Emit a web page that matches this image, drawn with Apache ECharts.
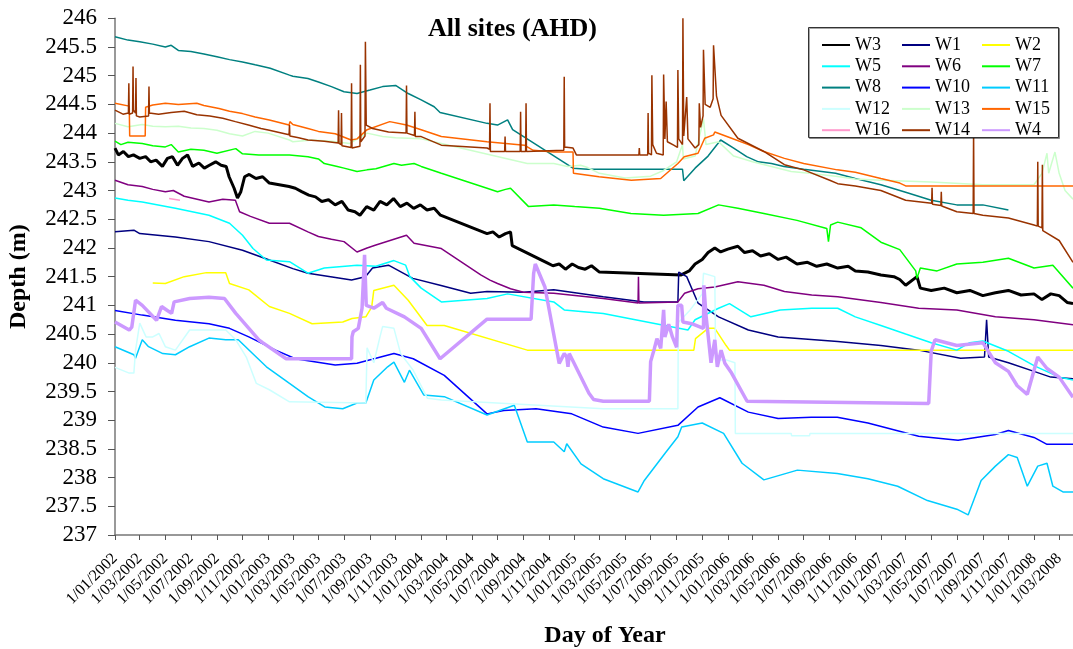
<!DOCTYPE html>
<html>
<head>
<meta charset="utf-8">
<script src="https://cdn.jsdelivr.net/npm/echarts@6/dist/echarts.min.js"></script>
<style>
  html, body { margin: 0; padding: 0; background: #fff; }
  #chart { width: 1073px; height: 649px; }
</style>
</head>
<body>
<div id="chart"></div>
<script>
// Groundwater levels (m AHD) per monitoring bore, [date, level]
const W3 = [['2002-01-01',243.74],['2002-01-09',243.62],['2002-01-21',243.68],['2002-02-02',243.59],['2002-02-14',243.62],['2002-03-01',243.56],['2002-03-15',243.59],['2002-03-27',243.5],['2002-04-09',243.53],['2002-04-24',243.42],['2002-05-06',243.56],['2002-05-18',243.59],['2002-05-30',243.44],['2002-06-11',243.56],['2002-06-23',243.62],['2002-07-05',243.42],['2002-07-20',243.48],['2002-08-02',243.39],['2002-08-14',243.44],['2002-08-29',243.5],['2002-09-11',243.44],['2002-09-23',243.42],['2002-09-30',243.24],['2002-10-12',243.04],['2002-10-20',242.87],['2002-10-28',242.98],['2002-11-06',243.24],['2002-11-17',243.28],['2002-12-03',243.21],['2002-12-19',243.24],['2003-01-04',243.13],['2003-02-20',243.07],['2003-03-07',243.04],['2003-03-22',242.98],['2003-04-08',242.92],['2003-04-24',242.89],['2003-05-09',242.81],['2003-05-25',242.84],['2003-06-10',242.75],['2003-06-26',242.81],['2003-07-11',242.66],['2003-07-27',242.63],['2003-08-08',242.57],['2003-08-24',242.72],['2003-09-10',242.66],['2003-09-25',242.81],['2003-10-11',242.75],['2003-10-27',242.86],['2003-11-12',242.72],['2003-11-28',242.78],['2003-12-14',242.69],['2003-12-30',242.75],['2004-01-15',242.66],['2004-02-01',242.69],['2004-02-16',242.57],['2004-06-06',242.25],['2004-06-20',242.28],['2004-07-05',242.19],['2004-07-20',242.25],['2004-08-01',242.28],['2004-08-05',242.04],['2004-10-25',241.75],['2004-11-10',241.69],['2004-11-25',241.72],['2004-12-10',241.63],['2004-12-26',241.72],['2005-01-10',241.66],['2005-01-26',241.63],['2005-02-10',241.69],['2005-03-01',241.58],['2005-09-12',241.53],['2005-10-01',241.6],['2005-10-15',241.72],['2005-11-01',241.8],['2005-11-15',241.92],['2005-12-01',242.0],['2005-12-15',241.93],['2006-01-01',241.98],['2006-01-25',242.03],['2006-02-10',241.92],['2006-03-01',241.95],['2006-03-20',241.86],['2006-04-10',241.9],['2006-05-01',241.8],['2006-05-20',241.84],['2006-06-15',241.72],['2006-07-10',241.75],['2006-08-01',241.68],['2006-08-25',241.72],['2006-09-20',241.65],['2006-10-15',241.68],['2006-11-01',241.6],['2006-12-01',241.58],['2007-01-01',241.53],['2007-02-01',241.5],['2007-02-15',241.45],['2007-03-01',241.35],['2007-03-28',241.5],['2007-04-05',241.3],['2007-05-01',241.26],['2007-06-01',241.3],['2007-07-01',241.22],['2007-08-01',241.26],['2007-09-01',241.17],['2007-10-01',241.22],['2007-11-01',241.26],['2007-12-01',241.18],['2008-01-01',241.2],['2008-01-20',241.1],['2008-02-10',241.2],['2008-03-01',241.17],['2008-03-20',241.05],['2008-04-03',241.03]];

const W1 = [['2002-01-01',242.28],['2002-02-15',242.31],['2002-03-01',242.25],['2002-05-25',242.19],['2002-08-13',242.11],['2002-11-01',241.96],['2003-01-04',241.79],['2003-03-01',241.64],['2003-04-06',241.56],['2003-07-19',241.44],['2003-08-21',241.5],['2003-09-07',241.65],['2003-10-15',241.7],['2003-12-12',241.47],['2004-02-15',241.35],['2004-04-28',241.21],['2004-06-06',241.24],['2004-09-01',241.23],['2004-11-12',241.27],['2005-03-10',241.15],['2005-06-15',241.06],['2005-09-04',241.06],['2005-09-06',241.58],['2005-09-25',241.5],['2005-10-22',241.04],['2005-12-10',240.8],['2006-02-19',240.57],['2006-05-01',240.45],['2006-09-20',240.37],['2007-01-01',240.3],['2007-04-01',240.22],['2007-07-10',240.08],['2007-09-05',240.1],['2007-09-10',240.75],['2007-09-15',240.1],['2007-11-01',240.0],['2008-01-01',239.85],['2008-02-10',239.75],['2008-04-03',239.72]];

const W2 = [['2002-04-01',241.39],['2002-05-01',241.38],['2002-06-15',241.5],['2002-08-07',241.57],['2002-09-22',241.57],['2002-10-01',241.38],['2002-11-16',241.27],['2003-01-04',240.98],['2003-02-21',240.86],['2003-04-16',240.68],['2003-06-28',240.71],['2003-07-20',240.77],['2003-08-22',240.8],['2003-09-05',240.97],['2003-09-10',241.26],['2003-10-28',241.35],['2003-12-01',241.09],['2004-01-15',240.65],['2004-02-25',240.65],['2004-09-10',240.22],['2005-10-12',240.22],['2005-10-16',240.42],['2005-11-15',240.6],['2005-12-01',240.6],['2005-12-28',240.3],['2006-01-05',240.22],['2008-04-03',240.22]];

const W5 = [['2002-01-01',242.87],['2002-02-01',242.83],['2002-03-07',242.8],['2002-05-25',242.69],['2002-08-13',242.57],['2002-10-01',242.43],['2002-11-01',242.22],['2002-11-26',241.99],['2002-12-28',241.79],['2003-02-21',241.76],['2003-04-06',241.56],['2003-05-15',241.65],['2003-08-01',241.7],['2003-09-15',241.68],['2003-10-28',241.78],['2003-11-25',241.7],['2003-12-05',241.5],['2004-01-01',241.3],['2004-02-18',241.06],['2004-06-06',241.12],['2004-07-25',241.2],['2004-11-12',241.06],['2004-12-07',240.92],['2005-03-10',240.86],['2005-09-28',240.57],['2005-10-15',240.75],['2005-12-10',240.95],['2006-01-05',241.03],['2006-02-25',240.8],['2006-05-06',240.92],['2006-07-20',240.95],['2006-09-20',240.95],['2006-11-01',240.8],['2007-01-01',240.65],['2007-03-01',240.5],['2007-05-01',240.35],['2007-07-01',240.22],['2007-08-01',240.35],['2007-09-01',240.38],['2007-11-01',240.2],['2008-01-01',239.95],['2008-03-01',239.75],['2008-04-03',239.7]];

const W6 = [['2002-01-01',243.18],['2002-02-01',243.1],['2002-03-07',243.07],['2002-04-01',243.02],['2002-05-01',242.98],['2002-05-20',243.0],['2002-06-15',242.9],['2002-08-13',242.8],['2002-09-15',242.85],['2002-10-15',242.83],['2002-10-25',242.63],['2002-11-20',242.55],['2003-01-04',242.43],['2003-02-21',242.43],['2003-04-06',242.28],['2003-05-01',242.2],['2003-06-01',242.15],['2003-07-01',242.11],['2003-08-01',241.93],['2003-08-25',242.0],['2003-09-15',242.05],['2003-11-27',242.22],['2003-12-15',242.08],['2004-02-18',241.99],['2004-05-22',241.53],['2004-06-13',241.44],['2004-07-01',241.38],['2004-08-01',241.29],['2004-09-01',241.23],['2004-11-12',241.21],['2005-03-10',241.12],['2005-06-01',241.04],['2005-06-02',241.5],['2005-06-03',241.04],['2005-09-04',241.06],['2005-09-20',241.21],['2005-10-22',241.29],['2005-12-01',241.32],['2006-01-25',241.41],['2006-03-28',241.35],['2006-05-16',241.24],['2006-07-20',241.18],['2006-09-20',241.15],['2007-01-01',241.05],['2007-04-01',240.95],['2007-07-01',240.92],['2007-10-01',240.8],['2008-01-01',240.75],['2008-04-03',240.66]];

const W7 = [['2002-01-01',243.86],['2002-01-15',243.8],['2002-02-01',243.84],['2002-03-07',243.82],['2002-04-01',243.78],['2002-05-01',243.76],['2002-05-15',243.8],['2002-06-01',243.67],['2002-07-01',243.72],['2002-08-01',243.7],['2002-09-01',243.65],['2002-10-16',243.73],['2002-11-01',243.64],['2002-12-10',243.62],['2003-01-04',243.62],['2003-02-21',243.62],['2003-04-06',243.59],['2003-05-01',243.55],['2003-05-15',243.47],['2003-06-15',243.42],['2003-07-01',243.39],['2003-08-01',243.33],['2003-08-25',243.36],['2003-09-15',243.38],['2003-10-28',243.47],['2003-11-15',243.44],['2003-12-15',243.47],['2004-01-01',243.42],['2004-02-18',243.3],['2004-06-06',243.04],['2004-07-01',242.98],['2004-07-20',243.02],['2004-08-01',243.04],['2004-09-13',242.72],['2004-11-12',242.75],['2005-01-01',242.72],['2005-03-01',242.69],['2005-05-15',242.6],['2005-08-01',242.57],['2005-10-22',242.6],['2005-12-10',242.75],['2006-01-25',242.69],['2006-03-28',242.6],['2006-06-15',242.48],['2006-08-25',242.34],['2006-08-29',242.11],['2006-09-03',242.4],['2006-09-20',242.45],['2006-11-15',242.35],['2007-01-01',242.1],['2007-02-15',241.97],['2007-03-25',241.6],['2007-03-28',241.47],['2007-04-05',241.65],['2007-05-15',241.6],['2007-07-01',241.72],['2007-09-01',241.75],['2007-11-01',241.82],['2008-01-01',241.65],['2008-02-15',241.7],['2008-04-03',241.3]];

const W8 = [['2002-01-01',245.68],['2002-02-01',245.62],['2002-03-01',245.59],['2002-04-01',245.55],['2002-05-01',245.5],['2002-05-15',245.53],['2002-06-01',245.44],['2002-07-01',245.42],['2002-08-01',245.38],['2002-09-01',245.33],['2002-10-01',245.28],['2002-11-01',245.24],['2002-12-01',245.19],['2003-01-01',245.14],['2003-01-06',245.13],['2003-02-21',245.01],['2003-03-01',244.99],['2003-04-06',244.95],['2003-05-01',244.89],['2003-06-01',244.81],['2003-07-01',244.72],['2003-08-01',244.69],['2003-09-01',244.75],['2003-10-01',244.81],['2003-11-01',244.83],['2003-12-01',244.69],['2004-01-01',244.58],['2004-02-01',244.46],['2004-02-15',244.36],['2004-06-06',244.17],['2004-07-01',244.14],['2004-07-25',244.23],['2004-08-06',244.06],['2004-12-28',243.39],['2005-02-01',243.37],['2005-09-15',243.37],['2005-09-18',243.17],['2005-10-15',243.39],['2005-11-15',243.6],['2005-12-15',243.88],['2006-01-15',243.74],['2006-02-15',243.59],['2006-03-15',243.5],['2006-04-15',243.47],['2006-05-15',243.42],['2006-07-01',243.37],['2006-09-15',243.3],['2006-11-01',243.21],['2007-01-01',243.1],['2007-03-01',242.97],['2007-05-01',242.83],['2007-07-01',242.75],['2007-09-01',242.75],['2007-11-01',242.66]];

const W10 = [['2002-01-01',240.91],['2002-03-07',240.83],['2002-05-25',240.74],['2002-08-13',240.68],['2002-10-01',240.6],['2002-11-16',240.45],['2003-01-19',240.22],['2003-03-07',240.07],['2003-06-10',239.96],['2003-08-01',239.99],['2003-10-28',240.16],['2003-12-13',240.07],['2004-02-25',239.78],['2004-06-06',239.11],['2004-07-16',239.17],['2004-10-01',239.2],['2004-12-25',239.11],['2005-03-10',238.88],['2005-06-01',238.77],['2005-09-04',238.91],['2005-10-22',239.23],['2005-12-13',239.39],['2006-02-19',239.14],['2006-05-01',239.03],['2006-07-19',239.05],['2006-09-19',239.05],['2006-12-01',238.95],['2007-04-01',238.72],['2007-07-04',238.65],['2007-10-01',238.75],['2007-11-01',238.82],['2008-01-01',238.7],['2008-02-01',238.58],['2008-04-03',238.58]];

const W11 = [['2002-01-01',240.28],['2002-02-15',240.14],['2002-02-19',240.08],['2002-03-07',240.4],['2002-03-22',240.28],['2002-04-25',240.16],['2002-05-25',240.14],['2002-06-28',240.28],['2002-08-13',240.43],['2002-09-22',240.4],['2002-10-22',240.4],['2002-11-25',240.16],['2002-12-28',239.93],['2003-02-21',239.64],['2003-04-06',239.41],['2003-05-16',239.23],['2003-06-28',239.2],['2003-08-01',239.3],['2003-08-22',239.3],['2003-09-10',239.7],['2003-10-13',239.93],['2003-10-28',240.01],['2003-11-22',239.66],['2003-12-04',239.87],['2004-01-07',239.44],['2004-02-25',239.41],['2004-06-06',239.09],['2004-08-10',239.26],['2004-09-10',238.62],['2004-11-12',238.62],['2004-12-07',238.45],['2004-12-13',238.59],['2005-01-16',238.24],['2005-03-10',237.98],['2005-06-01',237.75],['2005-06-16',237.95],['2005-08-04',238.42],['2005-09-04',238.71],['2005-09-13',238.88],['2005-11-01',238.95],['2005-12-22',238.77],['2006-02-04',238.25],['2006-03-28',237.96],['2006-06-16',238.13],['2006-09-19',238.07],['2006-12-01',237.98],['2007-02-10',237.85],['2007-04-22',237.6],['2007-07-01',237.45],['2007-07-28',237.35],['2007-08-28',237.95],['2007-10-01',238.2],['2007-11-01',238.4],['2007-11-22',238.35],['2007-12-16',237.85],['2008-01-10',238.2],['2008-02-01',238.25],['2008-02-15',237.85],['2008-03-10',237.75],['2008-04-03',237.75]];

const W12 = [['2002-01-01',239.92],['2002-02-04',239.82],['2002-02-15',239.82],['2002-02-19',240.22],['2002-03-01',240.69],['2002-03-16',240.45],['2002-04-01',240.45],['2002-04-16',240.51],['2002-05-01',240.28],['2002-05-25',240.22],['2002-06-28',240.57],['2002-08-13',240.57],['2002-09-22',240.57],['2002-10-16',240.4],['2002-11-10',240.1],['2002-12-04',239.64],['2003-01-04',239.53],['2003-02-21',239.32],['2003-08-22',239.3],['2003-08-25',240.26],['2003-09-10',240.0],['2003-09-25',240.46],['2003-10-01',240.63],['2003-10-28',240.6],['2003-11-13',240.16],['2003-12-13',239.87],['2004-01-16',239.38],['2004-02-18',239.35],['2005-03-10',239.2],['2005-09-04',239.2],['2005-09-05',240.7],['2005-10-01',240.9],['2005-11-01',241.2],['2005-11-04',241.56],['2005-12-01',241.5],['2005-12-03',240.05],['2005-12-28',240.05],['2006-01-18',240.0],['2006-01-19',238.77],['2006-06-01',238.77],['2006-06-02',238.73],['2006-07-15',238.73],['2006-07-16',238.77],['2008-04-03',238.77]];

const W13 = [['2002-01-01',244.17],['2002-02-01',244.11],['2002-03-07',244.15],['2002-04-01',244.12],['2002-05-01',244.11],['2002-06-01',244.12],['2002-07-01',244.09],['2002-08-01',244.08],['2002-09-01',244.05],['2002-10-01',243.99],['2002-11-01',243.95],['2002-12-01',244.03],['2003-01-01',244.0],['2003-02-21',243.88],['2003-03-01',243.85],['2003-04-15',243.88],['2003-06-01',243.86],['2003-07-15',243.82],['2003-08-25',244.0],['2003-10-01',243.94],['2003-11-01',243.92],['2004-01-01',243.9],['2004-02-18',243.82],['2004-09-10',243.47],['2004-11-12',243.47],['2004-12-15',243.42],['2005-01-15',243.44],['2005-02-01',243.4],['2005-03-01',243.3],['2005-05-01',243.22],['2005-07-01',243.25],['2005-08-01',243.35],['2005-09-01',243.5],['2005-09-15',243.8],['2005-09-17',243.55],['2005-10-15',243.6],['2005-11-04',244.25],['2005-11-10',243.8],['2005-12-10',243.85],['2006-01-15',243.6],['2006-03-01',243.5],['2006-04-15',243.42],['2006-06-01',243.33],['2006-07-15',243.3],['2006-09-15',243.25],['2006-11-01',243.2],['2007-01-01',243.18],['2007-05-01',243.15],['2007-09-01',243.1],['2008-01-01',243.1],['2008-01-20',243.3],['2008-02-01',243.65],['2008-02-05',243.3],['2008-02-20',243.67],['2008-03-01',243.3],['2008-03-15',243.0],['2008-04-03',242.85]];

const W15 = [['2002-01-01',244.52],['2002-02-04',244.47],['2002-02-05',243.95],['2002-03-14',243.95],['2002-03-15',244.45],['2002-04-01',244.49],['2002-05-01',244.52],['2002-06-01',244.5],['2002-07-15',244.52],['2002-08-01',244.48],['2002-09-06',244.43],['2002-10-01',244.38],['2002-11-01',244.34],['2002-12-01',244.28],['2003-01-04',244.23],['2003-02-20',244.14],['2003-02-22',244.2],['2003-03-01',244.15],['2003-04-06',244.08],['2003-05-01',244.03],['2003-06-10',243.99],['2003-07-18',243.88],['2003-08-01',243.9],['2003-08-25',244.06],['2003-10-18',244.2],['2003-11-27',244.14],['2004-01-01',244.06],['2004-02-18',243.94],['2004-06-06',243.85],['2004-09-03',243.79],['2004-09-24',243.7],['2004-11-12',243.67],['2004-12-28',243.67],['2004-12-29',243.3],['2005-02-28',243.24],['2005-05-16',243.18],['2005-07-25',243.21],['2005-09-04',243.47],['2005-09-19',243.59],['2005-10-22',243.65],['2005-11-07',243.91],['2005-11-28',243.97],['2005-12-01',244.02],['2006-01-10',243.91],['2006-02-19',243.8],['2006-03-28',243.68],['2006-05-16',243.56],['2006-07-01',243.47],['2006-09-19',243.36],['2006-11-01',243.32],['2007-01-01',243.21],['2007-02-15',243.13],['2007-03-01',243.08],['2008-04-03',243.08]];

const W16 = [['2002-05-10',242.86],['2002-06-05',242.83]];

const W14 = [['2002-01-01',244.4],['2002-01-20',244.33],['2002-02-02',244.35],['2002-02-03',244.87],['2002-02-04',244.33],['2002-02-12',244.35],['2002-02-13',245.16],['2002-02-14',244.4],['2002-02-19',244.35],['2002-02-20',244.96],['2002-02-21',244.3],['2002-03-01',244.28],['2002-03-22',244.3],['2002-03-23',244.81],['2002-03-24',244.35],['2002-04-15',244.33],['2002-05-15',244.36],['2002-06-15',244.38],['2002-07-15',244.32],['2002-08-15',244.3],['2002-09-15',244.26],['2002-10-15',244.2],['2002-11-15',244.14],['2002-12-15',244.08],['2003-01-04',244.05],['2003-02-20',243.97],['2003-02-21',244.14],['2003-02-22',243.95],['2003-03-15',243.92],['2003-04-06',243.88],['2003-05-15',243.86],['2003-06-17',243.83],['2003-06-18',244.4],['2003-06-19',243.82],['2003-06-24',243.8],['2003-06-25',244.35],['2003-06-26',243.78],['2003-07-18',243.75],['2003-07-19',244.87],['2003-07-20',243.74],['2003-08-08',243.77],['2003-08-09',245.19],['2003-08-10',243.85],['2003-08-20',243.95],['2003-08-21',245.59],['2003-08-23',244.14],['2003-09-07',244.08],['2003-10-15',244.02],['2003-11-26',244.0],['2003-11-27',244.83],['2003-11-28',244.0],['2003-12-16',243.96],['2003-12-17',244.37],['2003-12-18',243.94],['2004-01-01',243.94],['2004-02-18',243.79],['2004-06-06',243.74],['2004-06-12',243.72],['2004-06-13',244.52],['2004-06-14',243.68],['2004-07-18',243.68],['2004-07-19',243.94],['2004-07-20',243.68],['2004-08-24',243.68],['2004-08-25',244.37],['2004-08-26',243.68],['2004-09-06',243.68],['2004-09-07',244.52],['2004-09-08',243.68],['2004-12-06',243.7],['2004-12-07',244.98],['2004-12-08',243.76],['2004-12-28',243.74],['2005-01-05',243.62],['2005-06-03',243.62],['2005-06-04',243.74],['2005-06-05',243.62],['2005-06-24',243.62],['2005-06-25',244.35],['2005-06-26',243.65],['2005-07-03',243.62],['2005-07-04',245.01],['2005-07-06',243.8],['2005-07-15',243.65],['2005-07-31',243.62],['2005-08-01',245.02],['2005-08-04',243.9],['2005-08-07',244.55],['2005-08-10',243.85],['2005-08-25',243.79],['2005-09-03',243.75],['2005-09-04',245.1],['2005-09-06',243.9],['2005-09-15',243.8],['2005-09-16',246.0],['2005-09-18',243.95],['2005-09-25',244.63],['2005-09-28',243.9],['2005-10-15',243.74],['2005-10-24',243.8],['2005-10-25',244.52],['2005-10-28',244.1],['2005-11-03',244.3],['2005-11-04',245.45],['2005-11-08',244.5],['2005-11-20',244.45],['2005-11-27',244.6],['2005-11-28',245.53],['2005-12-05',244.65],['2005-12-16',244.31],['2006-01-25',243.91],['2006-03-28',243.68],['2006-05-16',243.45],['2006-07-01',243.36],['2006-09-01',243.18],['2006-09-20',243.12],['2006-11-01',243.08],['2007-01-01',243.0],['2007-03-01',242.83],['2007-05-02',242.78],['2007-05-03',243.05],['2007-05-04',242.76],['2007-05-24',242.74],['2007-05-25',242.98],['2007-05-26',242.73],['2007-07-01',242.63],['2007-08-09',242.6],['2007-08-10',244.05],['2007-08-11',242.6],['2007-09-01',242.57],['2007-11-01',242.52],['2008-01-01',242.4],['2008-01-09',242.38],['2008-01-10',243.5],['2008-01-11',242.38],['2008-01-20',242.35],['2008-01-21',243.45],['2008-01-22',242.3],['2008-03-01',242.13],['2008-04-03',241.75]];

const W4 = [['2002-01-01',240.71],['2002-02-04',240.57],['2002-02-10',240.62],['2002-02-19',241.09],['2002-02-22',241.12],['2002-03-07',241.0],['2002-04-10',240.74],['2002-04-22',240.98],['2002-05-04',240.92],['2002-05-16',240.86],['2002-05-22',241.06],['2002-06-28',241.12],['2002-08-13',241.14],['2002-09-19',241.12],['2002-10-16',240.86],['2002-12-10',240.4],['2002-12-19',240.35],['2003-02-13',240.07],['2003-07-19',240.07],['2003-07-20',240.45],['2003-07-23',240.54],['2003-08-04',240.6],['2003-08-13',240.95],['2003-08-19',241.88],['2003-08-23',241.0],['2003-09-10',240.95],['2003-10-01',241.05],['2003-10-10',240.95],['2003-11-22',240.8],['2004-01-01',240.6],['2004-02-15',240.07],['2004-06-06',240.76],['2004-09-19',240.76],['2004-09-25',241.55],['2004-09-29',241.72],['2004-10-22',241.32],['2004-11-25',239.99],['2004-12-07',240.16],['2004-12-13',240.1],['2004-12-16',239.93],['2004-12-19',240.16],['2005-02-04',239.47],['2005-02-15',239.36],['2005-03-10',239.33],['2005-06-28',239.33],['2005-07-01',240.02],['2005-07-10',240.25],['2005-07-16',240.42],['2005-07-25',240.25],['2005-08-01',240.92],['2005-08-04',240.45],['2005-08-13',240.67],['2005-08-22',240.45],['2005-09-01',240.27],['2005-09-04',241.0],['2005-09-13',241.0],['2005-09-16',240.71],['2005-10-07',240.68],['2005-11-04',240.6],['2005-11-05',241.35],['2005-11-10',240.83],['2005-11-22',240.0],['2005-12-01',240.4],['2005-12-07',239.93],['2005-12-16',240.22],['2005-12-25',239.99],['2006-01-10',239.82],['2006-02-16',239.33],['2007-04-25',239.29],['2007-05-01',240.2],['2007-05-10',240.4],['2007-07-01',240.3],['2007-09-01',240.35],['2007-10-01',240.0],['2007-11-01',239.85],['2007-11-22',239.6],['2007-12-16',239.45],['2008-01-10',240.1],['2008-02-01',239.9],['2008-03-01',239.75],['2008-04-03',239.4]];

// Tick positions on the date axis (first of every second month)
const tickDates = ['2002-01-01','2002-03-01','2002-05-01','2002-07-01','2002-09-01','2002-11-01',
  '2003-01-01','2003-03-01','2003-05-01','2003-07-01','2003-09-01','2003-11-01',
  '2004-01-01','2004-03-01','2004-05-01','2004-07-01','2004-09-01','2004-11-01',
  '2005-01-01','2005-03-01','2005-05-01','2005-07-01','2005-09-01','2005-11-01',
  '2006-01-01','2006-03-01','2006-05-01','2006-07-01','2006-09-01','2006-11-01',
  '2007-01-01','2007-03-01','2007-05-01','2007-07-01','2007-09-01','2007-11-01',
  '2008-01-01','2008-03-01'];

// Series in drawing order: name, data, colour, line width
const seriesDefs = [
  ['W3', W3, '#000000', 3],
  ['W1', W1, '#000080', 1.5],
  ['W2', W2, '#FFFF00', 1.5],
  ['W5', W5, '#00FFFF', 1.5],
  ['W6', W6, '#800080', 1.5],
  ['W7', W7, '#00FF00', 1.5],
  ['W8', W8, '#008080', 1.5],
  ['W10', W10, '#0000FF', 1.5],
  ['W11', W11, '#00CCFF', 1.5],
  ['W12', W12, '#CCFFFF', 1.5],
  ['W13', W13, '#CCFFCC', 1.5],
  ['W15', W15, '#FF6600', 1.5],
  ['W16', W16, '#FF99CC', 1.5],
  ['W14', W14, '#993300', 1.5],
  ['W4', W4, '#CC99FF', 3.5]
];

// Legend columns
const legendCols = [
  ['W3', 'W5', 'W8', 'W12', 'W16'],
  ['W1', 'W6', 'W10', 'W13', 'W14'],
  ['W2', 'W7', 'W11', 'W15', 'W4']
];

const FONT = '"Liberation Serif", "Times New Roman", serif';
// dates are handled as local-time milliseconds on a numeric axis
const ts = s => { const p = s.split('-').map(Number); return new Date(p[0], p[1] - 1, p[2]).getTime(); };
const pad = n => (n < 10 ? '0' : '') + n;
const tickValues = tickDates.map(ts);

const chart = echarts.init(document.getElementById('chart'), null, { renderer: 'canvas' });

const legends = legendCols.map((col, i) => ({
  data: col,
  orient: 'vertical',
  left: 816 + i * 80,
  top: 29.5,
  itemWidth: 28,
  itemHeight: 12,
  itemGap: 0.3,
  selectedMode: false,
  z: 6,
  // line-only keys: hide the marker drawn over the line sample
  itemStyle: { opacity: 0, color: 'rgba(0,0,0,0)', borderWidth: 0 },
  textStyle: { fontFamily: FONT, fontSize: 18, color: '#000', lineHeight: 21 }
}));

chart.setOption({
  animation: false,
  backgroundColor: '#fff',
  title: {
    text: 'All sites (AHD)',
    left: 423,
    top: 11,
    textStyle: { fontFamily: FONT, fontSize: 26, fontWeight: 'bold', color: '#000' }
  },
  legend: legends,
  graphic: [
    {
      type: 'rect', z: 5,
      shape: { x: 808.5, y: 27.5, width: 250, height: 110 },
      style: { fill: '#fff', stroke: '#333', lineWidth: 1,
               shadowColor: 'rgba(0,0,0,0.35)', shadowOffsetX: 1, shadowOffsetY: 1 }
    },
    {
      type: 'text', z: 5,
      x: 605, y: 636,
      style: { text: 'Day of Year', align: 'center', verticalAlign: 'middle',
               font: 'bold 24px ' + FONT, fill: '#000' }
    }
  ],
  grid: { left: 115, right: 0, top: 18.3, bottom: 114, containLabel: false, outerBoundsMode: 'none' },
  xAxis: {
    type: 'value',
    min: ts('2002-01-01'),
    max: ts('2008-04-03'),
    axisLine: { show: true, lineStyle: { color: '#777', width: 1.5 } },
    axisTick: { show: true, length: 5, lineStyle: { color: '#555' }, customValues: tickValues },
    splitLine: { show: false },
    axisLabel: {
      customValues: tickValues,
      rotate: 45,
      margin: 21,
      fontFamily: FONT,
      fontSize: 16,
      color: '#000',
      formatter: v => { const d = new Date(v); return d.getDate() + '/' + pad(d.getMonth() + 1) + '/' + d.getFullYear(); }
    }
  },
  yAxis: {
    type: 'value',
    min: 237, max: 246, interval: 0.5,
    name: 'Depth (m)',
    nameLocation: 'middle',
    nameGap: 84,
    nameRotate: 90,
    nameTextStyle: { fontFamily: FONT, fontSize: 24, fontWeight: 'bold', color: '#000' },
    axisLine: { show: true, lineStyle: { color: '#777', width: 1.5 } },
    axisTick: { show: true, inside: false, length: 7, lineStyle: { color: '#555' } },
    splitLine: { show: false },
    axisLabel: { fontFamily: FONT, fontSize: 23, color: '#000', margin: 18 }
  },
  series: seriesDefs.map(([name, data, color, width]) => ({
    name, type: 'line',
    data: data.map(([d, v]) => [ts(d), v]),
    symbol: 'none', showSymbol: false,
    z: 2,
    lineStyle: { color, width },
    itemStyle: { color },
    emphasis: { disabled: true }
  }))
});
</script>
</body>
</html>
